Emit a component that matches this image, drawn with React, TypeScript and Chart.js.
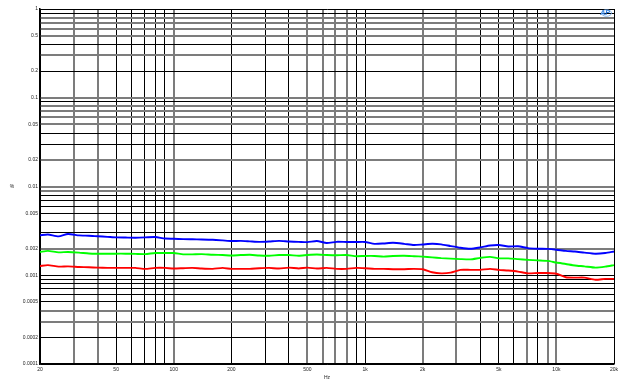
import { useEffect, useRef } from "react";
import { Chart, registerables } from "chart.js";

Chart.register(...registerables);

const freqs = [20, 22, 25, 28, 32, 36, 40, 45, 50, 56, 63, 71, 80, 90, 100, 112, 125, 140, 160, 180, 200, 224, 250, 280, 315, 355, 400, 450, 500, 560, 630, 710, 800, 900, 1000, 1120, 1250, 1400, 1600, 1800, 2000, 2240, 2500, 2800, 3150, 3550, 4000, 4500, 5000, 5600, 6300, 7100, 8000, 9000, 10000, 11200, 12500, 14000, 16000, 18000, 20000];

const blueVals = [0.00282, 0.00288, 0.00274, 0.00292, 0.00281, 0.00279, 0.00275, 0.00271, 0.00267, 0.00266, 0.00265, 0.00267, 0.0027, 0.00259, 0.00258, 0.00255, 0.00254, 0.00253, 0.00251, 0.00247, 0.00243, 0.00244, 0.00241, 0.00238, 0.0024, 0.00244, 0.0024, 0.00238, 0.00236, 0.00243, 0.00231, 0.00238, 0.00237, 0.00237, 0.00237, 0.00226, 0.00228, 0.00232, 0.00226, 0.00219, 0.00222, 0.00226, 0.00223, 0.00213, 0.00204, 0.00199, 0.00206, 0.00216, 0.00219, 0.00211, 0.00212, 0.00202, 0.00199, 0.00198, 0.00194, 0.00188, 0.00185, 0.0018, 0.00175, 0.00178, 0.00185];

const greenVals = [0.00183, 0.00188, 0.00181, 0.00183, 0.0018, 0.00176, 0.00175, 0.00175, 0.00175, 0.00175, 0.00174, 0.00173, 0.00178, 0.00178, 0.00178, 0.00172, 0.00172, 0.00173, 0.0017, 0.00169, 0.00167, 0.00169, 0.0017, 0.00167, 0.00166, 0.00169, 0.00169, 0.00166, 0.00169, 0.00171, 0.00169, 0.00168, 0.00169, 0.00164, 0.00165, 0.00165, 0.00162, 0.00165, 0.00166, 0.00164, 0.00162, 0.00159, 0.00156, 0.00154, 0.00152, 0.00151, 0.00157, 0.00161, 0.00155, 0.00155, 0.00152, 0.00149, 0.00147, 0.00145, 0.00139, 0.00134, 0.00129, 0.00126, 0.00122, 0.00125, 0.0013];

const redVals = [0.00127, 0.0013, 0.00125, 0.00126, 0.00124, 0.00123, 0.00122, 0.00121, 0.00121, 0.00121, 0.00121, 0.00118, 0.00121, 0.00121, 0.00119, 0.0012, 0.00121, 0.00119, 0.00118, 0.00121, 0.00118, 0.00118, 0.00118, 0.0012, 0.00121, 0.00119, 0.00122, 0.00119, 0.00122, 0.00119, 0.00121, 0.00118, 0.00118, 0.00121, 0.0012, 0.00118, 0.00118, 0.00117, 0.00117, 0.00118, 0.00117, 0.00108, 0.00105, 0.00107, 0.00115, 0.00115, 0.00115, 0.00118, 0.00115, 0.00113, 0.0011, 0.00105, 0.00106, 0.00106, 0.00104, 0.00095, 0.00094, 0.00094, 0.00089, 0.00091, 0.00091];

const xLabelValues = [20, 50, 100, 200, 500, 1000, 2000, 5000, 10000, 20000];
const xLabelTexts = ["20", "50", "100", "200", "500", "1k", "2k", "5k", "10k", "20k"];
const yLabelValues = [1, 0.5, 0.2, 0.1, 0.05, 0.02, 0.01, 0.005, 0.002, 0.001, 0.0005, 0.0002, 0.0001];
const yLabelTexts = ["1", "0.5", "0.2", "0.1", "0.05", "0.02", "0.01", "0.005", "0.002", "0.001", "0.0005", "0.0002", "0.0001"];

const X_MIN = 20;
const X_MAX = 20000;
const Y_MIN = 0.0001;
const Y_MAX = 1;

const FONT = "Arial, 'Liberation Sans', sans-serif";

function decadeGrid(min: number, max: number): number[] {
  const out: number[] = [];
  const e0 = Math.floor(Math.log10(min) + 1e-9);
  const e1 = Math.ceil(Math.log10(max) - 1e-9);
  for (let e = e0; e <= e1; e++) {
    for (let m = 1; m <= 9; m++) {
      const v = parseFloat((m * Math.pow(10, e)).toPrecision(6));
      if (v >= min * 0.9999 && v <= max * 1.0001) out.push(v);
    }
  }
  return out;
}

function labelFor(v: number, vals: number[], texts: string[]): string {
  for (let i = 0; i < vals.length; i++) {
    if (Math.abs(vals[i] - v) / vals[i] < 1e-6) return texts[i];
  }
  return "";
}

const isSoft = (ctx: any) => {
  if (!ctx.tick) return false;
  const p = ctx.scale.getPixelForValue(ctx.tick.value);
  const f = p - Math.floor(p);
  return f > 0.35 && f < 0.8;
};
const gridColor = (ctx: any) => (isSoft(ctx) ? "#7c7c7c" : "#000");
const gridWidth = (ctx: any) => (isSoft(ctx) ? 2 : 1);

const extrasPlugin = {
  id: "extras",
  afterDraw(chart: any) {
    const { ctx, chartArea } = chart;
    ctx.save();
    ctx.fillStyle = "#222";
    ctx.font = `5px ${FONT}`;
    ctx.textAlign = "center";
    ctx.textBaseline = "middle";
    ctx.fillText("%", chartArea.left - 28, (chartArea.top + chartArea.bottom) / 2);
    // AP logo
    const lx = chartArea.right - 9;
    const ly = chartArea.top + 4;
    ctx.fillStyle = "#1d6fd6";
    ctx.font = `italic bold 7px ${FONT}`;
    ctx.fillText("AP", lx, ly);
    ctx.strokeStyle = "#6aa6e8";
    ctx.lineWidth = 0.8;
    ctx.beginPath();
    ctx.ellipse(lx + 1.5, ly, 5, 3.3, 0, 0, Math.PI * 2);
    ctx.stroke();
    ctx.restore();
  },
};

export default function App() {
  const ref = useRef<HTMLCanvasElement>(null);
  useEffect(() => {
    document.body.style.margin = "0";
    const canvas = ref.current!;
    const mk = (vals: number[]) => freqs.map((f, i) => ({ x: f, y: vals[i] }));
    const chart = new Chart(canvas, {
      type: "line",
      data: {
        datasets: [
          { data: mk(blueVals), borderColor: "#0000ff", borderWidth: 1.9, pointRadius: 0, tension: 0.2 },
          { data: mk(greenVals), borderColor: "#00ff00", borderWidth: 1.9, pointRadius: 0, tension: 0.2 },
          { data: mk(redVals), borderColor: "#ff0000", borderWidth: 1.9, pointRadius: 0, tension: 0.2 },
        ],
      },
      options: {
        responsive: false,
        animation: false,
        layout: { padding: { top: 9, right: 8, left: 0, bottom: 0 } },
        plugins: { legend: { display: false }, tooltip: { enabled: false } },
        scales: {
          x: {
            type: "logarithmic",
            min: X_MIN,
            max: X_MAX,
            afterBuildTicks: (s: any) => {
              s.ticks = decadeGrid(X_MIN, X_MAX).map((v) => ({ value: v }));
            },
            afterFit: (s: any) => {
              s.height = 19;
            },
            ticks: {
              autoSkip: false,
              maxRotation: 0,
              padding: 3,
              color: "#222",
              font: { size: 5, family: FONT },
              callback: (v: any) => labelFor(Number(v), xLabelValues, xLabelTexts),
            },
            grid: { color: gridColor, lineWidth: gridWidth, drawTicks: false },
            border: { color: "#000", width: 1.5 },
            title: {
              display: true,
              text: "Hz",
              color: "#222",
              font: { size: 5, family: FONT },
              padding: { top: 0, bottom: 2 },
            },
          },
          y: {
            type: "logarithmic",
            min: Y_MIN,
            max: Y_MAX,
            afterBuildTicks: (s: any) => {
              s.ticks = decadeGrid(Y_MIN, Y_MAX).map((v) => ({ value: v }));
            },
            afterFit: (s: any) => {
              s.width = 40;
            },
            ticks: {
              autoSkip: false,
              padding: 2,
              color: "#222",
              font: { size: 5, family: FONT },
              callback: (v: any) => labelFor(Number(v), yLabelValues, yLabelTexts),
            },
            grid: { color: gridColor, lineWidth: gridWidth, drawTicks: false },
            border: { color: "#000", width: 1.5 },
          },
        },
      },
      plugins: [extrasPlugin],
    } as any);
    return () => chart.destroy();
  }, []);
  return (
    <div style={{ width: 622, height: 383, background: "#fff" }}>
      <canvas ref={ref} width={622} height={383} style={{ display: "block" }} />
    </div>
  );
}
